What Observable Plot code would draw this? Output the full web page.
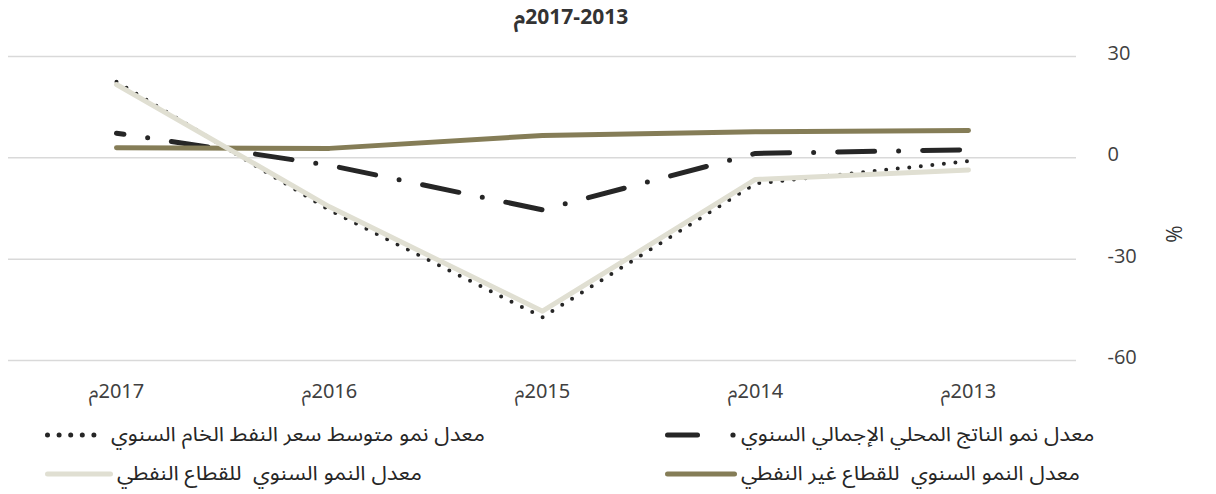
<!DOCTYPE html>
<html>
<head>
<meta charset="utf-8">
<script src="https://cdn.jsdelivr.net/npm/d3@7"></script>
<script src="https://cdn.jsdelivr.net/npm/@observablehq/plot@0.6"></script>
<style>
  html, body { margin: 0; padding: 0; background: #fff; }
  body { width: 1216px; height: 494px; overflow: hidden; position: relative; font-family: "Open Sans", "Noto Sans Arabic", "DejaVu Sans", sans-serif; }
  #title { position: absolute; top: -2px; left: 0; width: 1142px; line-height: 36px; text-align: center; font-weight: bold; font-size: 21px; color: #333; }
  #chart { position: absolute; top: 0; left: 0; }
  #unit { position: absolute; left: 1165px; top: 220px; line-height: 28px; font-size: 21px; color: #333; transform: rotate(-90deg); transform-origin: center; }
  .leg { position: absolute; display: flex; align-items: center; height: 30px; direction: ltr; }
  .leg svg { flex: none; margin-right: 4px; }
  .leg span { display: inline-block; height: 30px; font-family: "Noto Sans Arabic", "DejaVu Sans", sans-serif; font-size: 20px; line-height: 30px; color: #262626; white-space: pre; transform: scaleX(1.11); transform-origin: left center; }
</style>
</head>
<body>
<div id="chart"></div>
<div id="title" dir="rtl"></div>
<div id="unit">%</div>
<div id="legend"></div>
<script>
// ---- data ----
const years = ["2017", "2016", "2015", "2014", "2013"];
const gdpGrowth = [7.3, -2.2, -15.4, 1.3, 2.4];
const oilPriceGrowth = [22.5, -15.5, -47.2, -7.6, -1.0];
const nonOilGrowth = [3.0, 2.8, 6.6, 7.7, 8.1];
const oilSectorGrowth = [21.7, -14.5, -45.4, -6.4, -3.6];
const yTicks = [-60, -30, 0, 30];
const seriesNames = [
  "معدل نمو الناتج المحلي الإجمالي السنوي",
  "معدل نمو متوسط سعر النفط الخام السنوي",
  "معدل النمو السنوي  للقطاع غير النفطي",
  "معدل النمو السنوي  للقطاع النفطي"
];
const titleText = "2017-2013م";
const yearSuffix = "م";

const colors = { gdp: "#262626", oil: "#262626", nonOil: "#857d57", oilSector: "#e0dfd2" };

const toRows = vals => years.map((y, i) => ({ year: y, value: vals[i] }));

document.getElementById("title").textContent = titleText;

const chart = Plot.plot({
  width: 1216,
  height: 418,
  marginLeft: 8,
  marginRight: 140,
  marginTop: 56,
  marginBottom: 58,
  x: { type: "point", domain: years, padding: 0.5, axis: null },
  y: { domain: [-60, 30], axis: null },
  style: { background: "transparent" },
  marks: [
    Plot.ruleY(yTicks, { stroke: "#d9d9d9", strokeWidth: 1.5 }),
    Plot.axisX({
      tickSize: 0, tickPadding: 23, label: null,
      tickFormat: d => d + yearSuffix,
      fontSize: 20, fill: "#404040",
      fontFamily: "'Liberation Sans Narrow', 'Noto Sans Arabic', 'DejaVu Sans', sans-serif"
    }),
    Plot.axisY(yTicks, {
      anchor: "right", tickSize: 0, tickPadding: 31, label: null,
      tickFormat: d => String(d), textAnchor: "start", dy: -3,
      fontSize: 20, fill: "#404040", fontFamily: "'Open Sans', sans-serif"
    }),
    Plot.line(toRows(gdpGrowth), {
      x: "year", y: "value", stroke: colors.gdp, strokeWidth: 5,
      strokeDasharray: "37,24,0,24", strokeDashoffset: 29.5, strokeLinecap: "round"
    }),
    Plot.line(toRows(oilPriceGrowth), {
      x: "year", y: "value", stroke: colors.oil, strokeWidth: 4,
      strokeDasharray: "0,11.6", strokeLinecap: "round"
    }),
    Plot.line(toRows(nonOilGrowth), {
      x: "year", y: "value", stroke: colors.nonOil, strokeWidth: 5, strokeLinecap: "round"
    }),
    Plot.line(toRows(oilSectorGrowth), {
      x: "year", y: "value", stroke: colors.oilSector, strokeWidth: 5, strokeLinecap: "round"
    })
  ]
});
// right-to-left base direction for the year labels so that "م" sits on the left
d3.select(chart).selectAll('g[aria-label="x-axis tick label"] text').attr("direction", "rtl");
document.getElementById("chart").appendChild(chart);

// ---- legend (HTML) ----
const symbols = {
  gdp: `<svg width="72" height="10"><line x1="2.5" y1="5" x2="32.5" y2="5" stroke="${colors.gdp}" stroke-width="5" stroke-linecap="round"/><circle cx="68" cy="5" r="2.6" fill="${colors.gdp}"/></svg>`,
  oil: `<svg width="62" height="10"><line x1="2.5" y1="5" x2="60.5" y2="5" stroke="${colors.oil}" stroke-width="5" stroke-dasharray="0,11.6" stroke-linecap="round"/></svg>`,
  nonOil: `<svg width="72" height="10"><line x1="2.5" y1="5" x2="69.5" y2="5" stroke="${colors.nonOil}" stroke-width="5" stroke-linecap="round"/></svg>`,
  oilSector: `<svg width="68" height="10"><line x1="2.5" y1="5" x2="65.5" y2="5" stroke="${colors.oilSector}" stroke-width="5" stroke-linecap="round"/></svg>`
};
const legendItems = [
  { key: "gdp", name: seriesNames[0], left: 665, top: 420 },
  { key: "oil", name: seriesNames[1], left: 45, top: 420 },
  { key: "nonOil", name: seriesNames[2], left: 665, top: 459 },
  { key: "oilSector", name: seriesNames[3], left: 45, top: 459 }
];
const legend = document.getElementById("legend");
for (const it of legendItems) {
  const d = document.createElement("div");
  d.className = "leg";
  d.style.left = it.left + "px";
  d.style.top = it.top + "px";
  d.innerHTML = symbols[it.key] + `<span dir="rtl">${it.name}</span>`;
  legend.appendChild(d);
}
</script>
</body>
</html>
